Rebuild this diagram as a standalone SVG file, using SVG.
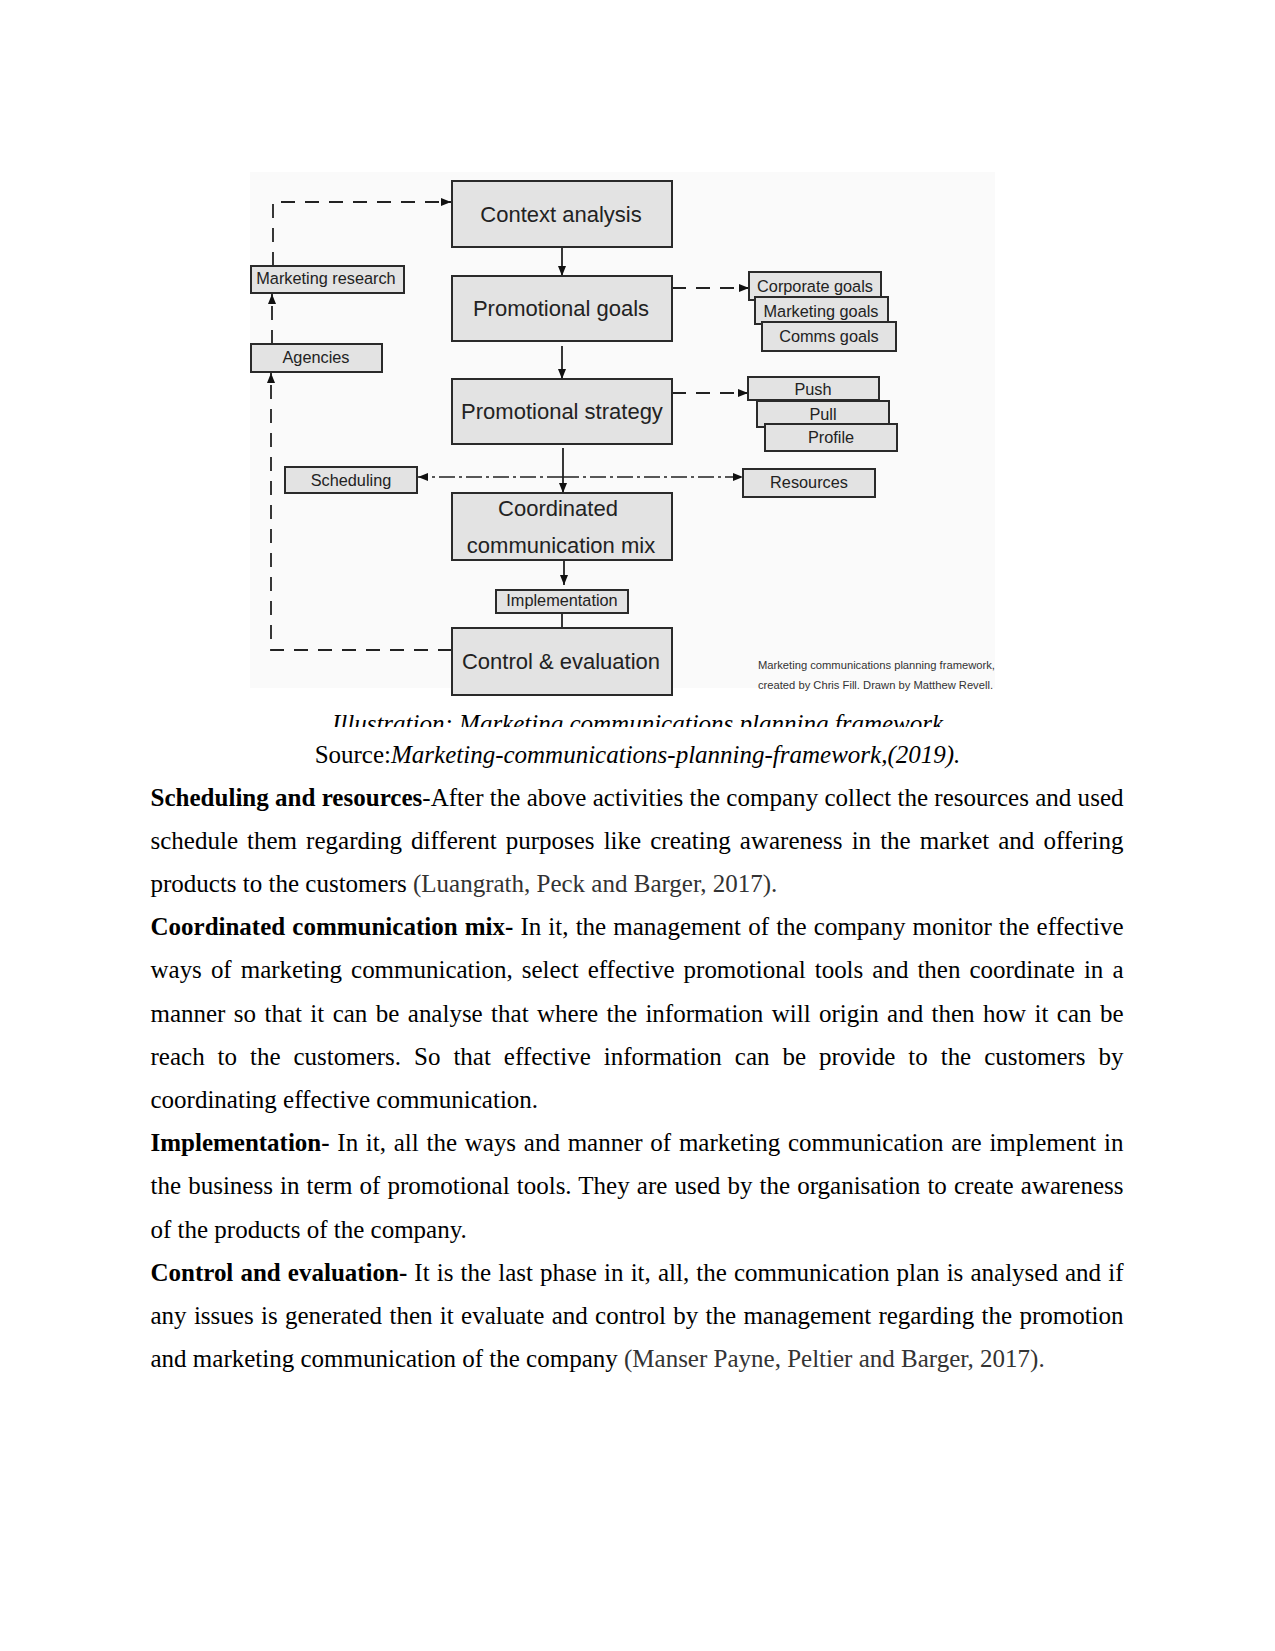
<svg xmlns="http://www.w3.org/2000/svg" width="1275" height="1651" viewBox="0 0 1275 1651">
<defs>
<style>
.box{fill:#e3e3e3;stroke:#2a2a2a;stroke-width:2}
.big{font-family:"Liberation Sans",Arial,sans-serif;font-size:22px;fill:#222;text-anchor:middle}
.sm{font-family:"Liberation Sans",Arial,sans-serif;font-size:16.3px;fill:#222;text-anchor:middle}
.solid{fill:none;stroke:#222;stroke-width:1.8}
.dash{fill:none;stroke:#222;stroke-width:1.8;stroke-dasharray:14 10}
.dashdot{fill:none;stroke:#222;stroke-width:1.6;stroke-dasharray:16 4 3 4}
.body{font-family:"Liberation Serif","Times New Roman",serif;font-size:25px;fill:#000}
.b{font-weight:bold}
.cite{fill:#333}
.credit{font-family:"Liberation Sans",Arial,sans-serif;font-size:11.2px;fill:#333}
</style>
<marker id="arr" viewBox="0 0 10 10" refX="10" refY="5" markerWidth="10" markerHeight="10" markerUnits="userSpaceOnUse" orient="auto">
<path d="M0,1 L10,5 L0,9 z" fill="#111"/>
</marker>
<clipPath id="capclip"><rect x="0" y="700" width="1275" height="27"/></clipPath>
</defs>
<rect width="1275" height="1651" fill="#fff"/>
<rect x="250" y="172" width="745" height="516" fill="#fafafa"/>

<g id="connectors">
<path class="solid" d="M562,247 V276" marker-end="url(#arr)"/>
<path class="solid" d="M562,346 V379" marker-end="url(#arr)"/>
<path class="solid" d="M563,448 V493" marker-end="url(#arr)"/>
<path class="solid" d="M564,560 V585" marker-end="url(#arr)"/>
<path class="solid" d="M562,613 V628"/>
<path class="dash" d="M672,288 H749" marker-end="url(#arr)"/>
<path class="dash" d="M672,393 H748" marker-end="url(#arr)"/>
<path class="dashdot" d="M563,477 H418" marker-end="url(#arr)"/>
<path class="dashdot" d="M563,477 H743" marker-end="url(#arr)"/>
<path class="dash" d="M452,650 H271 V373" marker-end="url(#arr)"/>
<path class="dash" d="M272,344 V294" marker-end="url(#arr)"/>
<path class="dash" d="M273,266 V202 H451" marker-end="url(#arr)"/>
</g>

<g id="context-analysis"><rect class="box" x="452" y="181" width="220" height="66"/><text class="big" x="561" y="222">Context analysis</text></g>
<g id="promotional-goals"><rect class="box" x="452" y="276" width="220" height="65"/><text class="big" x="561" y="316">Promotional goals</text></g>
<g id="promotional-strategy"><rect class="box" x="452" y="379" width="220" height="65"/><text class="big" x="562" y="419">Promotional strategy</text></g>
<g id="coordinated-mix"><rect class="box" x="452" y="493" width="220" height="67"/><text class="big" x="558" y="516">Coordinated</text><text class="big" x="561" y="553">communication mix</text></g>
<g id="implementation"><rect class="box" x="496" y="590" width="132" height="23"/><text class="sm" x="562" y="606">Implementation</text></g>
<g id="control-evaluation"><rect class="box" x="452" y="628" width="220" height="67"/><text class="big" x="561" y="669">Control &amp; evaluation</text></g>

<g id="marketing-research"><rect class="box" x="251" y="266" width="153" height="27"/><text class="sm" x="326" y="284">Marketing research</text></g>
<g id="agencies"><rect class="box" x="251" y="344" width="131" height="28"/><text class="sm" x="316" y="363">Agencies</text></g>
<g id="scheduling"><rect class="box" x="285" y="467" width="132" height="26"/><text class="sm" x="351" y="486">Scheduling</text></g>
<g id="resources"><rect class="box" x="743" y="469" width="132" height="28"/><text class="sm" x="809" y="488">Resources</text></g>

<g id="corporate-goals"><rect class="box" x="749" y="272" width="132" height="28"/><text class="sm" x="815" y="292">Corporate goals</text></g>
<g id="marketing-goals"><rect class="box" x="755" y="297" width="133" height="27"/><text class="sm" x="821" y="317">Marketing goals</text></g>
<g id="comms-goals"><rect class="box" x="762" y="322" width="134" height="29"/><text class="sm" x="829" y="342">Comms goals</text></g>

<g id="push"><rect class="box" x="748" y="377" width="131" height="23"/><text class="sm" x="813" y="395">Push</text></g>
<g id="pull"><rect class="box" x="757" y="401" width="132" height="26"/><text class="sm" x="823" y="420">Pull</text></g>
<g id="profile"><rect class="box" x="765" y="424" width="132" height="27"/><text class="sm" x="831" y="443">Profile</text></g>

<g id="credit">
<text class="credit" x="758" y="669">Marketing communications planning framework,</text>
<text class="credit" x="758" y="689">created by Chris Fill. Drawn by Matthew Revell.</text>
</g>

<g id="caption">
<text class="body" x="637.5" y="732" text-anchor="middle" font-style="italic" clip-path="url(#capclip)">Illustration: Marketing communications planning framework</text>
<text class="body" x="637.5" y="763" text-anchor="middle">Source:<tspan font-style="italic">Marketing-communications-planning-framework,(2019).</tspan></text>
</g>

<g id="body-text">
<text class="body" x="150.5" y="805.5" textLength="973" lengthAdjust="spacing"><tspan class="b">Scheduling and resources</tspan>-After the above activities the company collect the resources and used</text>
<text class="body" x="150.5" y="848.7" word-spacing="2.8" textLength="973" lengthAdjust="spacing">schedule them regarding different purposes like creating awareness in the market and offering</text>
<text class="body" x="150.5" y="891.9">products to the customers <tspan class="cite">(Luangrath, Peck and Barger, 2017).</tspan></text>
<text class="body" x="150.5" y="935.1" word-spacing="0.9" textLength="973" lengthAdjust="spacing"><tspan class="b">Coordinated communication mix-</tspan> In it, the management of the company monitor the effective</text>
<text class="body" x="150.5" y="978.3" word-spacing="2.8" textLength="973" lengthAdjust="spacing">ways of marketing communication, select effective promotional tools and then coordinate in a</text>
<text class="body" x="150.5" y="1021.5" word-spacing="2.2" textLength="973" lengthAdjust="spacing">manner so that it can be analyse that where the information will origin and then how it can be</text>
<text class="body" x="150.5" y="1064.7" word-spacing="6.7" textLength="973" lengthAdjust="spacing">reach to the customers. So that effective information can be provide to the customers by</text>
<text class="body" x="150.5" y="1107.9">coordinating effective communication.</text>
<text class="body" x="150.5" y="1151.1" word-spacing="1.5" textLength="973" lengthAdjust="spacing"><tspan class="b">Implementation-</tspan> In it, all the ways and manner of marketing communication are implement in</text>
<text class="body" x="150.5" y="1194.3" word-spacing="0.9" textLength="973" lengthAdjust="spacing">the business in term of promotional tools. They are used by the organisation to create awareness</text>
<text class="body" x="150.5" y="1237.5">of the products of the company.</text>
<text class="body" x="150.5" y="1280.7" word-spacing="0.9" textLength="973" lengthAdjust="spacing"><tspan class="b">Control and evaluation-</tspan> It is the last phase in it, all, the communication plan is analysed and if</text>
<text class="body" x="150.5" y="1323.9" word-spacing="1.1" textLength="973" lengthAdjust="spacing">any issues is generated then it evaluate and control by the management regarding the promotion</text>
<text class="body" x="150.5" y="1367.1">and marketing communication of the company <tspan class="cite">(Manser Payne, Peltier and Barger, 2017).</tspan></text>
</g>
</svg>
